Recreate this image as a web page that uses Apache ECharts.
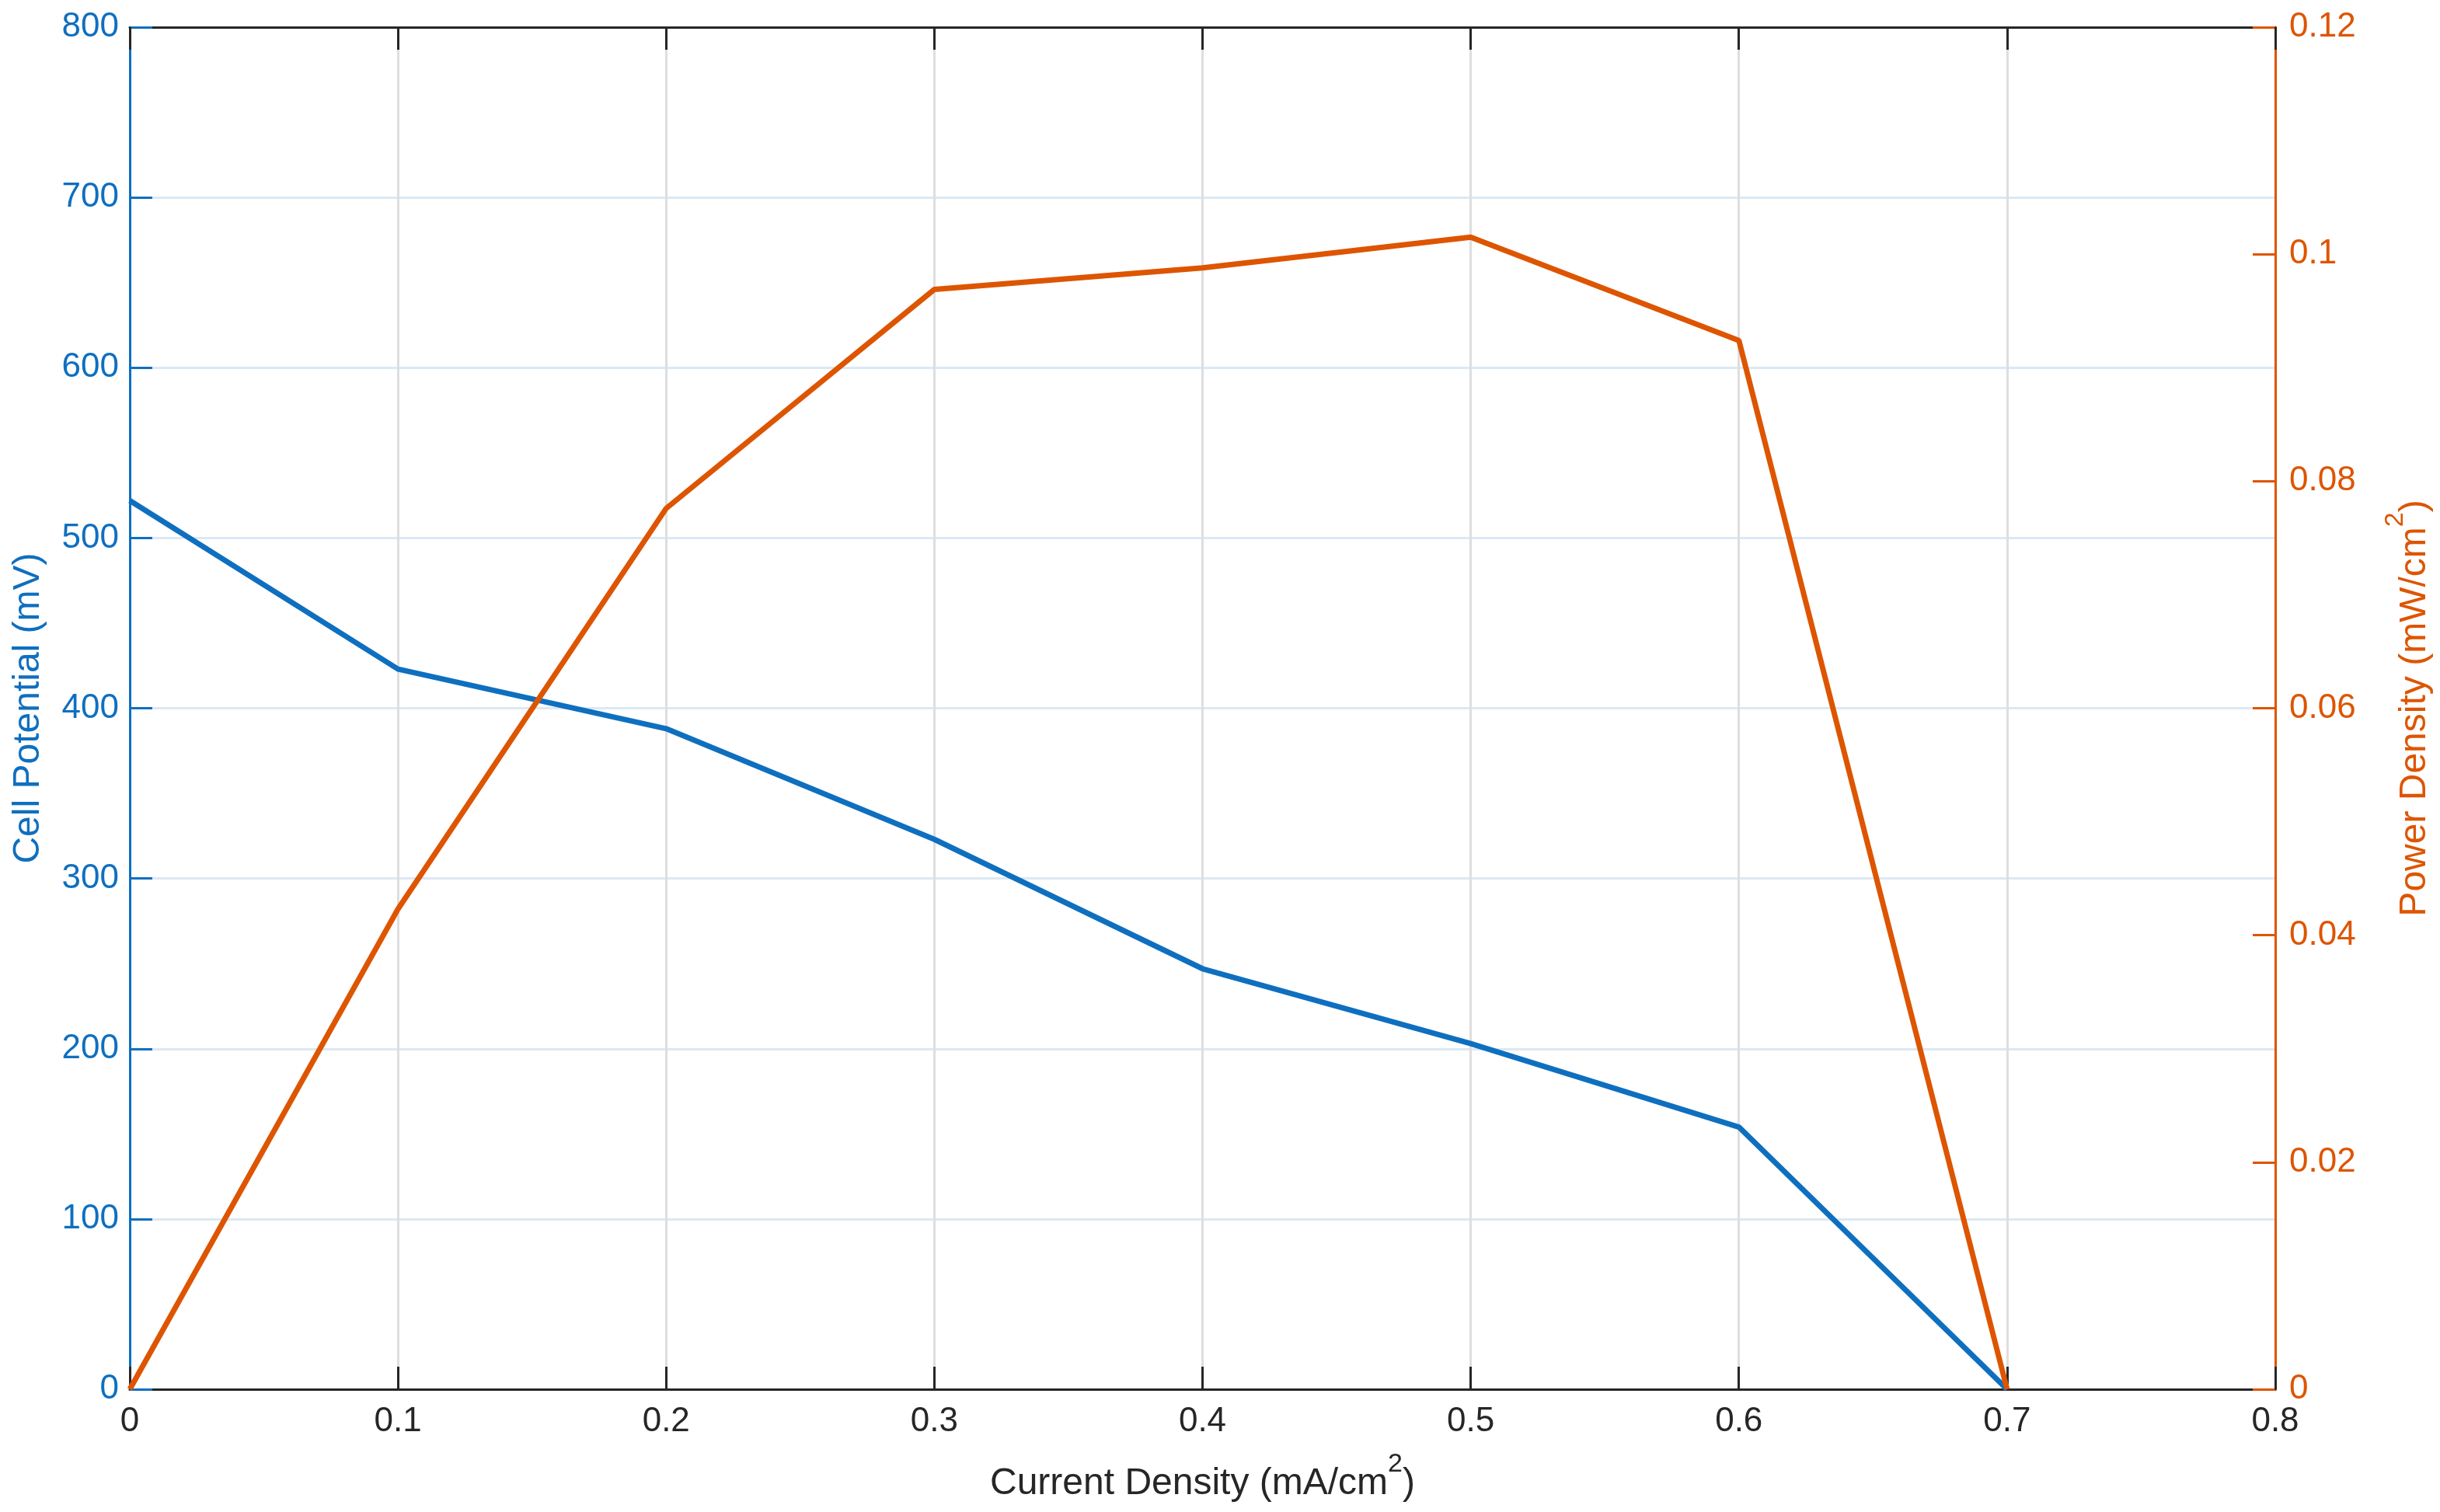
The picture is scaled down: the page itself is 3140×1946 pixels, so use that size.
<!DOCTYPE html>
<html>
<head>
<meta charset="utf-8">
<script src="https://cdn.jsdelivr.net/npm/echarts@6/dist/echarts.min.js"></script>
<style>
html,body{margin:0;padding:0;background:#fff;}
#c{width:3140px;height:1946px;}
</style>
</head>
<body>
<div id="c"></div>
<script>
const currentDensity = [0, 0.1, 0.2, 0.3, 0.4, 0.5, 0.6, 0.7];
const cellPotential = [522, 423, 388, 323, 247, 203, 154, 0];
const powerDensity = [0, 0.0423, 0.0776, 0.0969, 0.0988, 0.1015, 0.0924, 0];

const BLUE = '#0F6FBF';
const ORANGE = '#DD5500';
const DARK = '#262626';
const FONT = 'Liberation Sans';
const TICK = 44;
const LAB = 48;

const chart = echarts.init(document.getElementById('c'), null, {renderer: 'canvas'});

function pairs(xs, ys) { return xs.map((x, i) => [x, ys[i]]); }

const labelRich = (color) => ({
  a: {fontSize: LAB, fontFamily: FONT, color: color, verticalAlign: 'bottom', padding: [18, 0, 0, 0]},
  s: {fontSize: 34, fontFamily: FONT, color: color, verticalAlign: 'top'}
});

chart.setOption({
  animation: false,
  backgroundColor: '#fff',
  grid: {left: 167, top: 35, right: 206, bottom: 158, containLabel: false},
  xAxis: [
    {
      type: 'value', position: 'bottom', min: 0, max: 0.8, interval: 0.1,
      name: '{a|Current Density (mA/cm}{s|2}{a|)}',
      nameLocation: 'middle', nameGap: 80,
      nameTextStyle: {rich: labelRich(DARK)},
      axisLine: {show: true, onZero: false, lineStyle: {color: DARK, width: 3}},
      axisTick: {show: true, inside: true, length: 29, lineStyle: {color: DARK, width: 3}},
      axisLabel: {fontSize: TICK, fontFamily: FONT, color: DARK, margin: 20},
      splitLine: {show: true, lineStyle: {color: '#dedede', width: 3}}
    },
    {
      type: 'value', position: 'top', min: 0, max: 0.8, interval: 0.1,
      axisLine: {show: true, onZero: false, lineStyle: {color: DARK, width: 3}},
      axisTick: {show: true, inside: true, length: 29, lineStyle: {color: DARK, width: 3}},
      axisLabel: {show: false},
      splitLine: {show: false}
    }
  ],
  yAxis: [
    {
      type: 'value', position: 'left', min: 0, max: 800, interval: 100,
      name: 'Cell Potential (mV)',
      nameLocation: 'middle', nameGap: 106, nameRotate: 90,
      nameTextStyle: {fontSize: LAB, fontFamily: FONT, color: BLUE},
      axisLine: {show: true, onZero: false, lineStyle: {color: BLUE, width: 3}},
      axisTick: {show: true, inside: true, length: 29, lineStyle: {color: BLUE, width: 3}},
      axisLabel: {fontSize: TICK, fontFamily: FONT, color: BLUE, margin: 14},
      splitLine: {show: true, lineStyle: {color: '#dbe9f4', width: 3}}
    },
    {
      type: 'value', position: 'right', min: 0, max: 0.12, interval: 0.02,
      name: '{a|Power Density (mW/cm}{s|2}{a|)}',
      nameLocation: 'middle', nameGap: 138, nameRotate: 90,
      nameTextStyle: {rich: labelRich(ORANGE)},
      axisLine: {show: true, onZero: false, lineStyle: {color: ORANGE, width: 3}},
      axisTick: {show: true, inside: true, length: 29, lineStyle: {color: ORANGE, width: 3}},
      axisLabel: {fontSize: TICK, fontFamily: FONT, color: ORANGE, margin: 18},
      splitLine: {show: false}
    }
  ],
  series: [
    {
      type: 'line', xAxisIndex: 0, yAxisIndex: 0,
      data: pairs(currentDensity, cellPotential),
      showSymbol: false, symbol: 'none',
      lineStyle: {color: BLUE, width: 7}, z: 3
    },
    {
      type: 'line', xAxisIndex: 0, yAxisIndex: 1,
      data: pairs(currentDensity, powerDensity),
      showSymbol: false, symbol: 'none',
      lineStyle: {color: ORANGE, width: 7}, z: 4
    }
  ]
});
</script>
</body>
</html>
